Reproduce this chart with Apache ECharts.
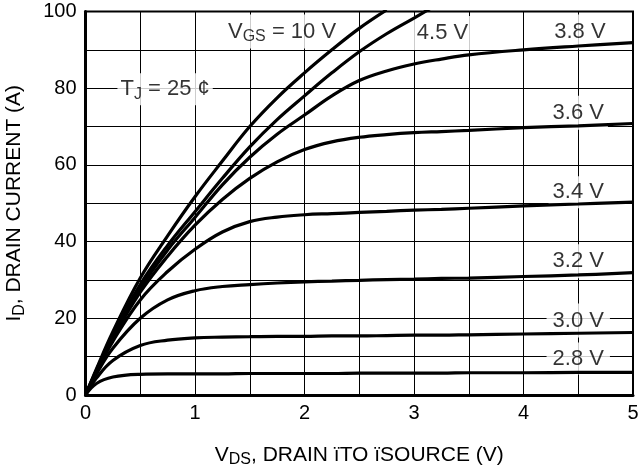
<!DOCTYPE html>
<html>
<head>
<meta charset="utf-8">
<script src="https://cdn.jsdelivr.net/npm/echarts@6/dist/echarts.min.js"></script>
<style>html,body{margin:0;padding:0;background:#fff}#c{width:640px;height:467px}</style>
</head>
<body>
<div id="c"></div>
<script>
// Drain-source voltage samples (V)
const vds = [0, 0.1, 0.25, 0.5, 0.75, 1, 1.25, 1.5, 1.75, 2, 2.25, 2.5, 2.75, 3, 3.25, 3.5, 4, 4.5, 5];
// Drain current (A) for each gate voltage
const id10V  = [0, 6.8, 16.5, 30.5, 41.5, 51.7, 61, 70, 77.5, 84, 90, 95.6, 100.4, null, null, null, null, null, null];
const id4p5V = [0, 6.5, 15.8, 28.8, 39, 47.8, 56.5, 64.7, 71.8, 78, 84, 89.5, 94.2, 98.3, 102.5, null, null, null, null];
const id3p8V = [0, 6.3, 15.2, 27.8, 37.8, 46.3, 54.8, 62, 68, 73, 78, 82, 84.5, 86.3, 87.6, 88.7, 90, 91, 91.9];
const id3p6V = [0, 6.1, 14.8, 26.8, 36.2, 44.3, 51, 56.5, 60.8, 64, 66, 67.2, 67.9, 68.4, 68.7, 69, 69.7, 70.2, 70.8];
const id3p4V = [0, 6, 14, 24.8, 32.2, 38, 42.5, 45.2, 46.4, 47, 47.3, 47.6, 47.9, 48.2, 48.4, 48.7, 49.3, 49.8, 50.3];
const id3p2V = [0, 5.5, 12.2, 20, 24.8, 27.2, 28.3, 28.8, 29.2, 29.5, 29.7, 29.9, 30.1, 30.2, 30.4, 30.5, 30.9, 31.3, 31.9];
const id3p0V = [0, 4.4, 9, 12.9, 14.3, 14.9, 15.1, 15.2, 15.3, 15.3, 15.4, 15.4, 15.5, 15.6, 15.6, 15.7, 15.9, 16.1, 16.3];
const id2p8V = [0, 3, 4.7, 5.4, 5.5, 5.5, 5.5, 5.6, 5.6, 5.6, 5.6, 5.7, 5.7, 5.7, 5.7, 5.8, 5.8, 5.9, 5.9];
const curveNames = ['10 V', '4.5 V', '3.8 V', '3.6 V', '3.4 V', '3.2 V', '3.0 V', '2.8 V'];
const curves = [id10V, id4p5V, id3p8V, id3p6V, id3p4V, id3p2V, id3p0V, id2p8V];
// Axis ticks
const xTicks = [0, 1, 2, 3, 4, 5];
const yTicks = [0, 20, 40, 60, 80, 100];

const FONT = '"Liberation Sans", Arial, sans-serif';
const nameRich = {
  m: {fontSize: 21, fontFamily: FONT, color: '#000', lineHeight: 26},
  s: {fontSize: 16, fontFamily: FONT, color: '#000', verticalAlign: 'bottom', lineHeight: 14}
};
const noteRich = {
  m: {fontSize: 22, fontFamily: FONT, color: '#000', lineHeight: 26},
  s: {fontSize: 16, fontFamily: FONT, color: '#000', verticalAlign: 'bottom', lineHeight: 14}
};

const lineSeries = curves.map((arr, k) => ({
  name: curveNames[k],
  type: 'line',
  data: vds.map((v, j) => arr[j] == null ? null : [v, arr[j]]),
  smooth: 0.4,
  showSymbol: false,
  symbol: 'none',
  clip: true,
  connectNulls: false,
  lineStyle: {color: '#000', width: 3.2},
  z: 5
}));

// annotation labels: [V, I, text, padding]
const notes = [
  [1.795, 94.8, '{m|V}{s|GS}{m| = 10 V}', [4, 3]],
  [3.26, 94.4, '{m|4.5 V}', [4, 7]],
  [4.515, 94.8, '{m|3.8 V}', [4, 4]],
  [4.5, 73.6, '{m|3.6 V}', [4, 4]],
  [4.5, 52.9, '{m|3.4 V}', [3, 4]],
  [4.5, 34.9, '{m|3.2 V}', [4, 4]],
  [4.5, 19.4, '{m|3.0 V}', [4, 6]],
  [4.5, 9.5, '{m|2.8 V}', [3, 6]],
  [0.727, 79.7, '{m|T}{s|J}{m| = 25 ¢}', [3, 3]]
];

const noteSeries = {
  type: 'scatter',
  silent: true,
  symbolSize: 0,
  itemStyle: {color: 'rgba(0,0,0,0)'},
  z: 3,
  data: notes.map(n => ({
    value: [n[0], n[1]],
    label: {
      show: true,
      position: 'inside',
      formatter: n[2],
      rich: noteRich,
      color: '#000',
      backgroundColor: '#fff',
      padding: n[3]
    }
  }))
};

const chart = echarts.init(document.getElementById('c'), null, {renderer: 'canvas'});
chart.setOption({
  animation: false,
  backgroundColor: '#fff',
  grid: {left: 85.5, right: 7, top: 11.5, bottom: 72, containLabel: false, outerBoundsMode: 'none',
         show: true, borderColor: '#000', borderWidth: 2, backgroundColor: 'transparent'},
  xAxis: {
    type: 'value', min: 0, max: 5, interval: 0.5,
    name: '{m|V}{s|DS}{m|, DRAIN ïTO ïSOURCE (V)}',
    nameLocation: 'middle', nameGap: 47,
    nameTextStyle: {rich: nameRich},
    axisLine: {show: true, lineStyle: {color: '#000', width: 3}},
    axisTick: {show: false},
    axisLabel: {
      margin: 8, color: '#000', fontSize: 20, fontFamily: FONT,
      formatter: v => xTicks.indexOf(v) >= 0 ? String(v) : ''
    },
    splitLine: {show: true, lineStyle: {color: '#000', width: 1}}
  },
  yAxis: {
    type: 'value', min: 0, max: 100, interval: 10,
    name: '{m|I}{s|D}{m|, DRAIN CURRENT (A)}',
    nameLocation: 'middle', nameGap: 58,
    nameTextStyle: {rich: nameRich},
    axisLine: {show: true, lineStyle: {color: '#000', width: 3}},
    axisTick: {show: false},
    axisLabel: {
      margin: 9, color: '#000', fontSize: 20, fontFamily: FONT,
      formatter: v => yTicks.indexOf(v) >= 0 ? String(v) : ''
    },
    splitLine: {show: true, lineStyle: {color: '#000', width: 1}}
  },
  series: lineSeries.concat([noteSeries])
});
</script>
</body>
</html>
